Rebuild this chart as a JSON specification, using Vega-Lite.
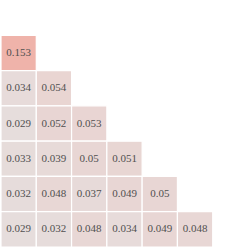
{
  "$schema": "https://vega.github.io/schema/vega-lite/v6.json",
  "width": 248,
  "height": 248,
  "autosize": {"type": "fit", "contains": "padding"},
  "padding": 0,
  "background": "white",
  "config": {"view": {"stroke": null}},
  "data": {"values": [
    {"row": 1, "col": 0, "v": 0.153},
    {"row": 2, "col": 0, "v": 0.034},
    {"row": 2, "col": 1, "v": 0.054},
    {"row": 3, "col": 0, "v": 0.029},
    {"row": 3, "col": 1, "v": 0.052},
    {"row": 3, "col": 2, "v": 0.053},
    {"row": 4, "col": 0, "v": 0.033},
    {"row": 4, "col": 1, "v": 0.039},
    {"row": 4, "col": 2, "v": 0.05},
    {"row": 4, "col": 3, "v": 0.051},
    {"row": 5, "col": 0, "v": 0.032},
    {"row": 5, "col": 1, "v": 0.048},
    {"row": 5, "col": 2, "v": 0.037},
    {"row": 5, "col": 3, "v": 0.049},
    {"row": 5, "col": 4, "v": 0.05},
    {"row": 6, "col": 0, "v": 0.029},
    {"row": 6, "col": 1, "v": 0.032},
    {"row": 6, "col": 2, "v": 0.048},
    {"row": 6, "col": 3, "v": 0.034},
    {"row": 6, "col": 4, "v": 0.049},
    {"row": 6, "col": 5, "v": 0.048}
  ]},
  "encoding": {
    "x": {"field": "col", "type": "ordinal", "scale": {"domain": [0, 1, 2, 3, 4, 5, 6], "paddingInner": 0, "paddingOuter": 0}, "axis": null},
    "y": {"field": "row", "type": "ordinal", "scale": {"domain": [0, 1, 2, 3, 4, 5, 6], "paddingInner": 0, "paddingOuter": 0}, "axis": null}
  },
  "layer": [
    {
      "mark": {"type": "rect", "stroke": "white", "strokeWidth": 1.2},
      "encoding": {
        "color": {"field": "v", "type": "quantitative", "scale": {"domain": [0.029, 0.153], "range": ["#e6dddc", "#efb3aa"]}, "legend": null}
      }
    },
    {
      "mark": {"type": "text", "font": "Liberation Serif", "fontSize": 11, "color": "#505050"},
      "encoding": {"text": {"field": "v", "type": "quantitative"}}
    }
  ]
}
